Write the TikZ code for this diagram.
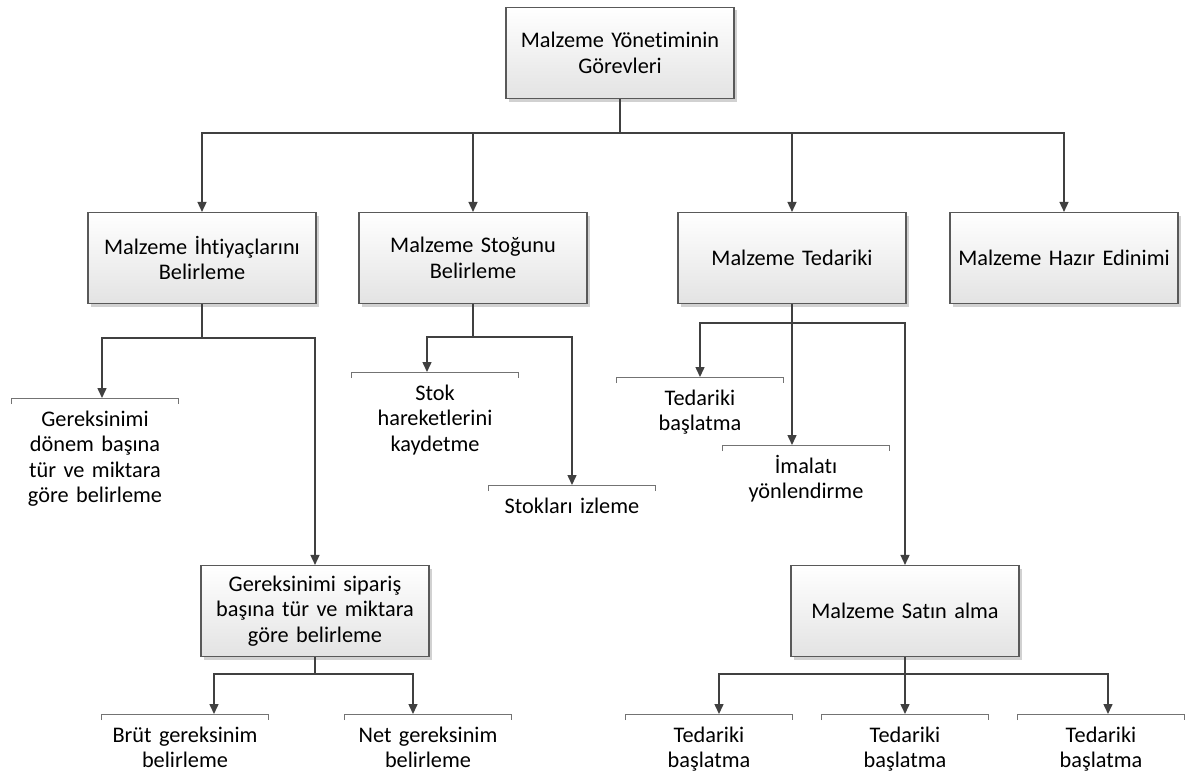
\documentclass[tikz,border=0pt]{standalone}
\usepackage{fontspec}
\setmainfont[WordSpace=0.85,Ligatures={NoCommon}]{Carlito}
\usetikzlibrary{arrows.meta,shadows}
\newcommand\boxfont{\fontsize{22.3}{25.5}\selectfont}
\definecolor{linec}{HTML}{404040}
\definecolor{boxborder}{HTML}{595959}
\definecolor{boxbot}{HTML}{E3E3E3}
\tikzset{
 box/.style={draw=boxborder, line width=1.1pt, top color=white, bottom color=boxbot,
   minimum width=228pt, minimum height=91pt, text width=212pt, align=center,
   inner xsep=8pt, font=\boxfont,
   drop shadow={shadow xshift=3pt, shadow yshift=-3pt, fill=black, opacity=0.18}},
 leaf/.style={anchor=north, text width=166pt, align=center, inner xsep=0pt,
   inner ysep=10pt, font=\boxfont},
 conn/.style={draw=linec, line width=1.5pt},
 arr/.style={conn, -{Triangle[length=10pt,width=9pt]}},
 bracket/.style={draw=black!55, line width=0.9pt},
}
\begin{document}
\begin{tikzpicture}[x=1pt,y=-1pt]
\useasboundingbox (0,0) rectangle (1192,776);
% boxes
\node[box] (top) at (620,53) {Malzeme Yönetiminin\\Görevleri};
\node[box] (b1) at (202,258) {Malzeme İhtiyaçlarını\\Belirleme};
\node[box] (b2) at (473,258) {Malzeme Stoğunu\\Belirleme};
\node[box] (b3) at (792,258) {Malzeme Tedariki};
\node[box] (b4) at (1064,258) {Malzeme Hazır Edinimi};
\node[box] (b5) at (315,611) {Gereksinimi sipariş\\başına tür ve miktara\\göre belirleme};
\node[box] (b6) at (905,611) {Malzeme Satın alma};
% leaves
\node[leaf] (l1) at (95,398) {\strut Gereksinimi\\dönem başına\\tür ve miktara\\göre belirleme};
\node[leaf] (l2) at (435,372) {\strut Stok\\hareketlerini\\kaydetme};
\node[leaf] (l3) at (572,485) {\strut Stokları izleme};
\node[leaf] (l4) at (700,377) {\strut Tedariki\\başlatma};
\node[leaf] (l5) at (806,445) {\strut İmalatı\\yönlendirme};
\node[leaf] (l6) at (185,714) {\strut Brüt gereksinim\\belirleme};
\node[leaf] (l7) at (428,714) {\strut Net gereksinim\\belirleme};
\node[leaf] (l8) at (709,714) {\strut Tedariki\\başlatma};
\node[leaf] (l9) at (905,714) {\strut Tedariki\\başlatma};
\node[leaf] (l10) at (1101,714) {\strut Tedariki\\başlatma};
\foreach \n in {l1,l2,l3,l4,l5,l6,l7,l8,l9,l10}
  \draw[bracket] ([yshift=-6pt]\n.north west) -- (\n.north west) -- (\n.north east) -- ([yshift=-6pt]\n.north east);
% junctions
\coordinate (j0) at (620,133);
\coordinate (j1) at (202,338);
\coordinate (j2) at (473,337);
\coordinate (j3) at (792,323);
\coordinate (j5) at (315,674);
\coordinate (j6) at (905,674);
% connectors
\draw[conn] (top.south) -- (j0);
\draw[arr] (j0) -| (b1.north);
\draw[arr] (j0) -| (b2.north);
\draw[arr] (j0) -| (b3.north);
\draw[arr] (j0) -| (b4.north);
\draw[conn] (b1.south) -- (j1);
\draw[arr] (j1) -| ([xshift=7pt]l1.north);
\draw[arr] (j1) -| (b5.north);
\draw[conn] (b2.south) -- (j2);
\draw[arr] (j2) -| ([xshift=-8pt]l2.north);
\draw[arr] (j2) -| (l3.north);
\draw[conn] (b3.south) -- (j3);
\draw[arr] (j3) -| (l4.north);
\draw[arr] (j3) -- ([xshift=-14pt]l5.north);
\draw[arr] (j3) -| (b6.north);
\draw[conn] (b5.south) -- (j5);
\draw[arr] (j5) -| ([xshift=29pt]l6.north);
\draw[arr] (j5) -| ([xshift=-15pt]l7.north);
\draw[conn] (b6.south) -- (j6);
\draw[arr] (j6) -| ([xshift=10pt]l8.north);
\draw[arr] (j6) -- (l9.north);
\draw[arr] (j6) -| ([xshift=7pt]l10.north);
\end{tikzpicture}
\end{document}
